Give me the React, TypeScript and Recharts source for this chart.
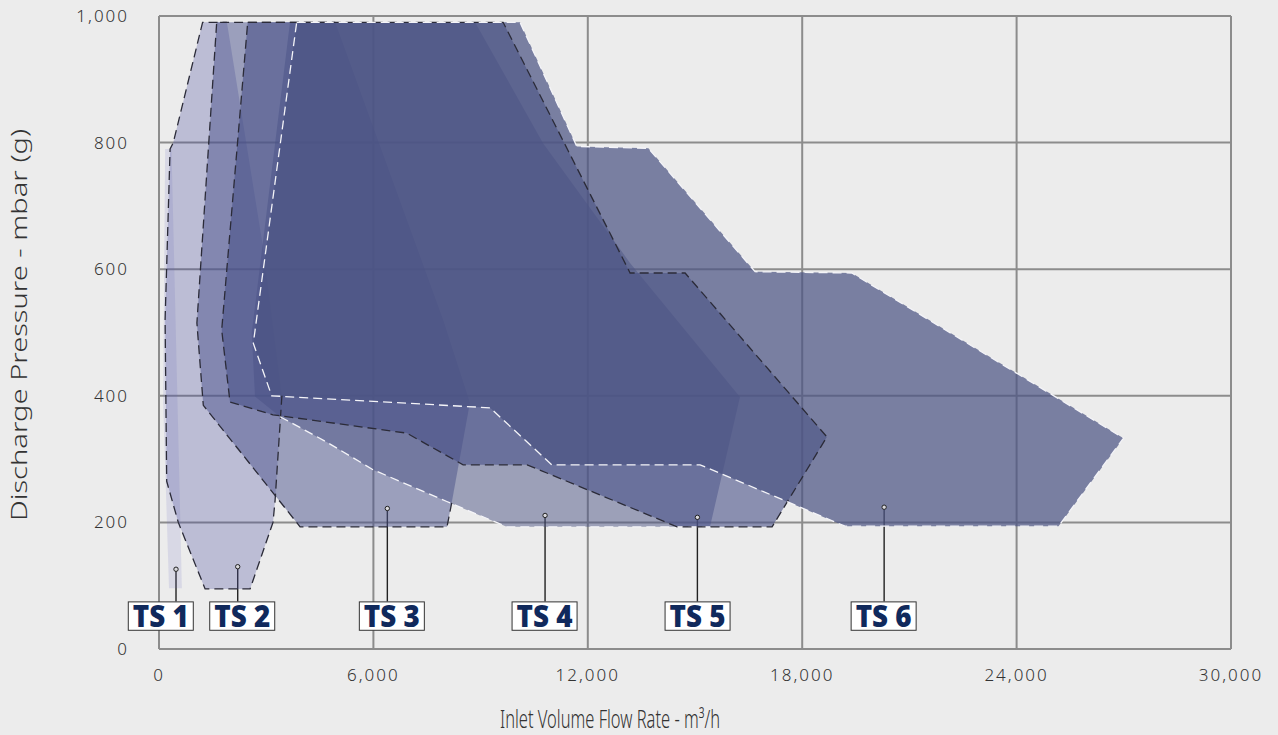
import React from 'react';
import { ScatterChart, Scatter, XAxis, YAxis, CartesianGrid, ReferenceLine, Label } from 'recharts';

// operating envelopes: inlet flow (m3/h) vs discharge pressure (mbar g)
// vertex order: the visible dashed edge comes first, the rest closes the shape
const TS1 = [
  { x: 170, y: 790 }, { x: 350, y: 790 }, { x: 640, y: 96 }, { x: 280, y: 96 }, { x: 115, y: 390 },
];
const TS2 = [
  { x: 3440, y: 400 }, { x: 3250, y: 235 }, { x: 3190, y: 200 }, { x: 2550, y: 95 },
  { x: 1290, y: 95 }, { x: 540, y: 200 }, { x: 215, y: 265 }, { x: 170, y: 520 },
  { x: 310, y: 790 }, { x: 400, y: 800 }, { x: 1220, y: 990 }, { x: 1900, y: 990 },
  { x: 2910, y: 635 },
];
const TS3 = [
  { x: 8190, y: 231 }, { x: 8060, y: 193 }, { x: 3950, y: 193 }, { x: 1240, y: 385 },
  { x: 1060, y: 515 }, { x: 1615, y: 990 }, { x: 4930, y: 990 },
  { x: 7950, y: 520 }, { x: 8700, y: 389 },
];
const TS4 = [
  { x: 3390, y: 367 }, { x: 4690, y: 327 }, { x: 6000, y: 283 }, { x: 8055, y: 233 },
  { x: 9730, y: 193 }, { x: 15420, y: 193 },
  { x: 16260, y: 398 }, { x: 13180, y: 610 }, { x: 10750, y: 799 }, { x: 8845, y: 990 },
  { x: 3667, y: 990 }, { x: 2595, y: 499 }, { x: 2687, y: 399 },
];
const TS5 = [
  { x: 2483, y: 990 }, { x: 9630, y: 990 }, { x: 13183, y: 594 }, { x: 14723, y: 594 },
  { x: 18690, y: 335 }, { x: 17158, y: 193 }, { x: 14499, y: 193 }, { x: 10300, y: 291 },
  { x: 8509, y: 291 }, { x: 6933, y: 341 }, { x: 3191, y: 370 }, { x: 1987, y: 390 },
  { x: 1755, y: 504 },
];
const TS6 = [
  { x: 3854, y: 990 }, { x: 10104, y: 990 }, { x: 11691, y: 794 }, { x: 13696, y: 791 },
  { x: 16682, y: 596 }, { x: 19389, y: 594 }, { x: 26991, y: 333 }, { x: 25172, y: 194 },
  { x: 19201, y: 194 }, { x: 15143, y: 291 }, { x: 10992, y: 291 }, { x: 9265, y: 381 },
  { x: 3155, y: 400 }, { x: 2640, y: 483 },
];

const SIZES = ['TS 1', 'TS 2', 'TS 3', 'TS 4', 'TS 5', 'TS 6'];
const LABEL_X = [50, 2329, 6516, 10790, 15072, 20279];
const POINTER_X = [476, 2203, 6390, 10804, 15067, 20293];
const POINTER_Y = [126, 130, 222, 211, 208, 224];
const LABEL_Y = 52;
const LABEL_TOP = 75;

const X_TICKS = [0, 6000, 12000, 18000, 24000, 30000];
const Y_TICKS = [0, 200, 400, 600, 800, 1000];

const DARK = '#2b2b38';
const LIGHT = '#f4f4f8';

// edge: number of leading vertices that get a dashed outline, -1 = whole closed outline
const SHAPES = [
  { id: 'ts1', data: TS1, color: '#6a6cc0', opacity: 0.15, stroke: 'none', edge: 0 },
  { id: 'ts2', data: TS2, color: '#4c4f9f', opacity: 0.3, stroke: DARK, edge: 12 },
  { id: 'ts3', data: TS3, color: '#4a528c', opacity: 0.5, stroke: DARK, edge: 7 },
  { id: 'ts4', data: TS4, color: '#4c5484', opacity: 0.5, stroke: LIGHT, edge: 6 },
  { id: 'ts5', data: TS5, color: '#4a5288', opacity: 0.6, stroke: DARK, edge: -1 },
  { id: 'ts6', data: TS6, color: '#4c5484', opacity: 0.72, stroke: LIGHT, edge: -1 },
];

const labelPoints = SIZES.map((name, i) => ({ x: LABEL_X[i], y: LABEL_Y, name }));
const pointerPoints = POINTER_X.map((x, i) => ({ x, y: POINTER_Y[i] }));

const fmt = (v: number) => v.toLocaleString('en-US');

function PolyPath(props: any) {
  const pts = (props.points || []).filter((p: any) => p && isFinite(p.x) && isFinite(p.y));
  const n = props.count > 0 ? props.count : pts.length;
  const used = pts.slice(0, n);
  if (!used.length) return null;
  const d =
    used.map((p: any, i: number) => `${i ? 'L' : 'M'}${p.x.toFixed(1)},${p.y.toFixed(1)}`).join(' ') +
    (props.closed ? ' Z' : '');
  return (
    <path
      d={d}
      fill={props.polyFill}
      fillOpacity={props.polyOpacity}
      stroke={props.polyStroke}
      strokeWidth={props.polyWidth}
      strokeDasharray={props.dash}
    />
  );
}

const Nothing = () => <g />;

function LabelBox(props: any) {
  const { cx, cy, payload } = props;
  if (!isFinite(cx) || !isFinite(cy)) return <g />;
  return (
    <g>
      <rect x={cx - 32.5} y={cy - 14.2} width={65} height={28.4} fill="#ffffff" stroke="#333" strokeWidth={1} />
      <text
        x={cx}
        y={cy + 11.3}
        textAnchor="middle"
        fontSize={30}
        fontWeight={800}
        fill="#10295c"
        textLength={56}
        lengthAdjust="spacingAndGlyphs"
        style={{ fontFamily: "'Open Sans', 'Noto Sans', sans-serif" }}
      >
        {payload?.name}
      </text>
    </g>
  );
}

function PointerDot(props: any) {
  const { cx, cy } = props;
  if (!isFinite(cx) || !isFinite(cy)) return <g />;
  return <circle cx={cx} cy={cy} r={2.2} fill="#d8d8dc" stroke="#222" strokeWidth={1} />;
}

const tickStyle = { fill: '#333', fontSize: 17, fontWeight: 300, letterSpacing: 2 };

export default function App() {
  return (
    <div
      style={{
        position: 'absolute',
        left: 0,
        top: 0,
        width: 1278,
        height: 735,
        background: '#ececec',
        fontFamily: "'Noto Sans', sans-serif",
      }}
    >
      <ScatterChart width={1278} height={735} margin={{ top: 16, right: 47, bottom: 0, left: 0 }}>
        <XAxis
          type="number"
          dataKey="x"
          domain={[0, 30000]}
          ticks={X_TICKS}
          tickFormatter={fmt}
          height={86}
          axisLine={false}
          tickLine={false}
          tickMargin={14}
          tick={tickStyle}
        >
          <Label
            content={() => (
              <text
                x={610}
                y={728}
                textAnchor="middle"
                fontSize={25}
                fontWeight={300}
                fill="#333"
                textLength={220}
                lengthAdjust="spacingAndGlyphs"
              >
                Inlet Volume Flow Rate - m³/h
              </text>
            )}
          />
        </XAxis>
        <YAxis
          type="number"
          dataKey="y"
          domain={[0, 1000]}
          ticks={Y_TICKS}
          tickFormatter={fmt}
          width={159}
          axisLine={false}
          tickLine={false}
          tickMargin={24}
          tick={tickStyle}
        >
          <Label
            content={() => (
              <text
                x={27}
                y={325}
                transform="rotate(-90 27 325)"
                textAnchor="middle"
                fontSize={22}
                fontWeight={300}
                fill="#333"
                textLength={392}
                lengthAdjust="spacingAndGlyphs"
              >
                Discharge Pressure - mbar (g)
              </text>
            )}
          />
        </YAxis>

        {SHAPES.map((s) => (
          <Scatter
            key={s.id + '-fill'}
            data={s.data}
            shape={Nothing}
            line={<PolyPath closed polyFill={s.color} polyOpacity={s.opacity} polyStroke="none" />}
            isAnimationActive={false}
            legendType="none"
          />
        ))}
        {SHAPES.filter((s) => s.edge !== 0).map((s) => (
          <Scatter
            key={s.id + '-edge'}
            data={s.data}
            shape={Nothing}
            line={
              <PolyPath
                closed={s.edge < 0}
                count={s.edge}
                polyFill="none"
                polyStroke={s.stroke}
                polyWidth={1.3}
                dash="9 5"
              />
            }
            isAnimationActive={false}
            legendType="none"
          />
        ))}

        <CartesianGrid stroke="#8c8c8c" strokeWidth={2} />

        {POINTER_X.map((x, i) => (
          <ReferenceLine
            key={'lead' + i}
            segment={[
              { x, y: POINTER_Y[i] },
              { x, y: LABEL_TOP },
            ]}
            stroke="#222"
            strokeWidth={1.4}
            ifOverflow="visible"
          />
        ))}
        <Scatter data={pointerPoints} shape={PointerDot} isAnimationActive={false} legendType="none" />
        <Scatter data={labelPoints} shape={LabelBox} isAnimationActive={false} legendType="none" />
      </ScatterChart>
    </div>
  );
}
